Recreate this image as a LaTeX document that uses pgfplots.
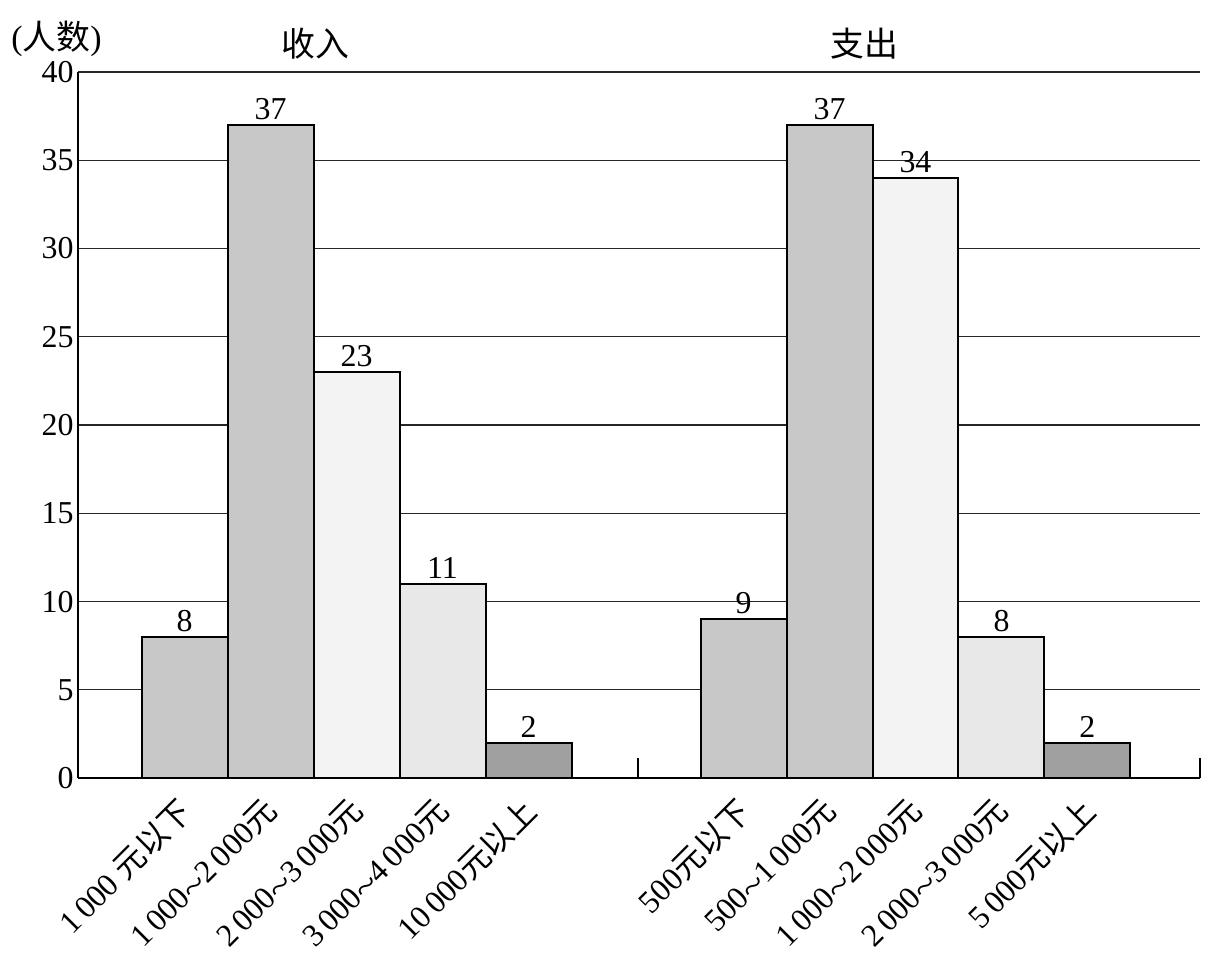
\documentclass[border=0pt]{standalone}
\usepackage{fontspec}
\setmainfont{Liberation Serif}
\newfontfamily\cjk{Noto Sans CJK SC}
\usepackage{graphicx}
\usepackage{pgfplots}
\pgfplotsset{compat=1.18}
\definecolor{gA}{HTML}{C8C8C8}
\definecolor{gB}{HTML}{F3F3F3}
\definecolor{gC}{HTML}{E8E8E8}
\definecolor{gD}{HTML}{A0A0A0}
\newcommand{\tl}{\raisebox{-1.5bp}{\scalebox{1.3}[1.1]{\textasciitilde}}}
\begin{document}
\begin{tikzpicture}
\begin{axis}[
  scale only axis=true,
  width=561bp, height=353bp,
  xmin=0, xmax=13.05, ymin=0, ymax=40,
  axis lines*=left,
  axis line style={line width=0.8bp},
  ytick={0,5,...,40},
  ymajorgrids=true,
  grid style={line width=0.65bp, black!85},
  major tick length=0pt,
  xtick={1.24,2.24,3.24,4.24,5.24,7.74,8.74,9.74,10.74,11.74},
  xticklabels={
    {1\,000 {\cjk 元以下}},
    {1\,000\tl2\,000{\cjk 元}},
    {2\,000\tl3\,000{\cjk 元}},
    {3\,000\tl4\,000{\cjk 元}},
    {10\,000{\cjk 元以上}},
    {500{\cjk 元以下}},
    {500\tl1\,000{\cjk 元}},
    {1\,000\tl2\,000{\cjk 元}},
    {2\,000\tl3\,000{\cjk 元}},
    {5\,000{\cjk 元以上}}},
  x tick label style={rotate=45, anchor=north east, font=\fontsize{16}{18}\selectfont, inner sep=1bp, yshift=-2bp, xshift=-8bp},
  y tick label style={font=\fontsize{16}{18}\selectfont, inner sep=2bp},
  /pgf/number format/assume math mode=true,
  extra x ticks={6.51,13.05},
  extra x tick labels={},
  extra x tick style={major tick length=10bp, tick align=inside, tick style={line width=0.8bp, black}},
  clip=false,
  every node near coord/.append style={font=\fontsize{16}{18}\selectfont, black, inner sep=2bp},
]
\addplot[ybar, bar width=1, fill=gA, draw=black, line width=1bp, nodes near coords] coordinates {(1.24,8)};
\addplot[ybar, bar width=1, fill=gA, draw=black, line width=1bp, nodes near coords] coordinates {(2.24,37)};
\addplot[ybar, bar width=1, fill=gB, draw=black, line width=1bp, nodes near coords] coordinates {(3.24,23)};
\addplot[ybar, bar width=1, fill=gC, draw=black, line width=1bp, nodes near coords] coordinates {(4.24,11)};
\addplot[ybar, bar width=1, fill=gD, draw=black, line width=1bp, nodes near coords] coordinates {(5.24,2)};
\addplot[ybar, bar width=1, fill=gA, draw=black, line width=1bp, nodes near coords] coordinates {(7.74,9)};
\addplot[ybar, bar width=1, fill=gA, draw=black, line width=1bp, nodes near coords] coordinates {(8.74,37)};
\addplot[ybar, bar width=1, fill=gB, draw=black, line width=1bp, nodes near coords] coordinates {(9.74,34)};
\addplot[ybar, bar width=1, fill=gC, draw=black, line width=1bp, nodes near coords] coordinates {(10.74,8)};
\addplot[ybar, bar width=1, fill=gD, draw=black, line width=1bp, nodes near coords] coordinates {(11.74,2)};
\node[font=\cjk\fontsize{17}{19}\selectfont] at (axis cs:2.76,41.6) {收入};
\node[font=\cjk\fontsize{17}{19}\selectfont] at (axis cs:9.15,41.6) {支出};
\node[font=\fontsize{17}{19}\selectfont] at (axis cs:-0.25,41.9) {({\cjk 人数})};
\coordinate (BBa) at (axis cs:-0.907,-10.77);
\coordinate (BBb) at (axis cs:13.2,44.08);
\end{axis}
\pgfresetboundingbox
\path (BBa) rectangle (BBb);
\end{tikzpicture}
\end{document}
